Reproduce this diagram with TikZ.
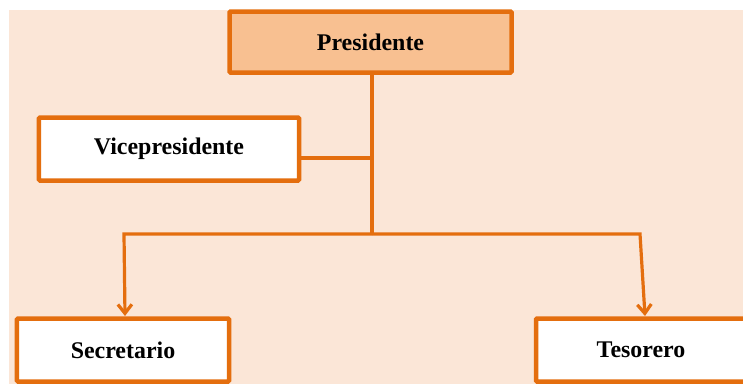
\documentclass[tikz,border=0pt]{standalone}
\usepackage{fontspec}
\setmainfont{Liberation Serif}
\usetikzlibrary{arrows.meta}
\definecolor{bgpeach}{RGB}{251,230,215}
\definecolor{boxor}{RGB}{228,110,14}
\definecolor{presfill}{RGB}{248,192,145}
\tikzset{
  orgbox/.style={draw=boxor, line width=4.5bp, fill=white, rounded corners=1bp, font=\bfseries\fontsize{24}{28}\selectfont, text=black},
  link/.style={draw=boxor, line width=3.2bp, line join=miter},
  arr/.style={link, -{Straight Barb[length=9bp, width=14bp, line width=3.2bp]}}
}
\begin{document}
\begin{tikzpicture}[x=1bp, y=-1bp]
\useasboundingbox (0,0) rectangle (743,383);
\clip (0,0) rectangle (743,383);
\fill[bgpeach] (9,10) rectangle (745,385);
\node[orgbox, fill=presfill, minimum width=282bp, minimum height=61bp] (pres) at (370.5,42) {Presidente};
\node[orgbox, minimum width=260bp, minimum height=63bp] (vice) at (169,149) {Vicepresidente};
\node[orgbox, minimum width=212bp, minimum height=63bp] (secr) at (123,350) {Secretario};
\node[orgbox, minimum width=210bp, minimum height=63bp] (teso) at (641,350) {Tesorero};
\coordinate (junc) at (372,158);
\coordinate (mid) at (372,234);
\coordinate (lc) at (124,234);
\coordinate (rc) at (640,234);
\coordinate (ltip) at (125,316);
\coordinate (rtip) at (645,316);
\draw[link] (pres.south -| junc) -- (mid);
\draw[link] (vice.east |- junc) -- (junc);
\draw[arr] (mid) -- (lc) -- (ltip);
\draw[arr] (mid) -- (rc) -- (rtip);
\end{tikzpicture}
\end{document}
